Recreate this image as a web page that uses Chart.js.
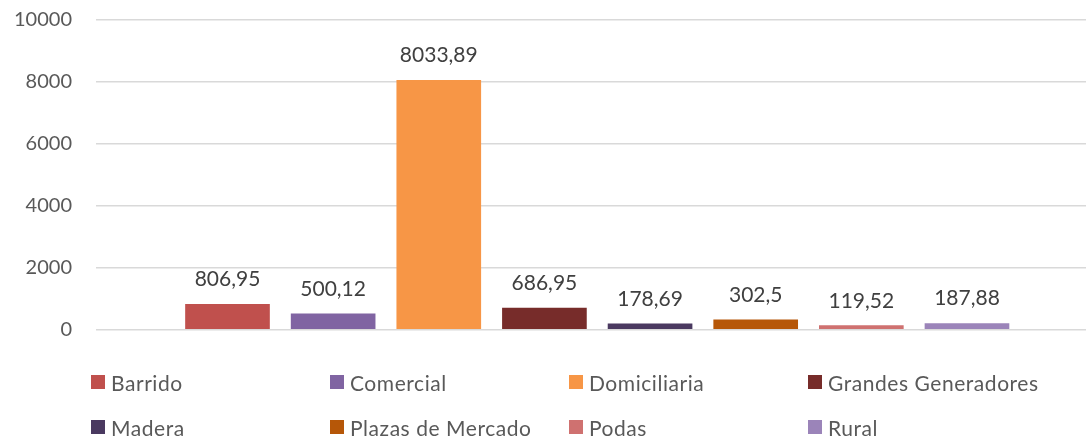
<!DOCTYPE html>
<html>
<head>
<meta charset="utf-8">
<script src="https://cdn.jsdelivr.net/npm/chart.js@4"></script>
<style>
  html, body { margin: 0; padding: 0; background: #ffffff; }
  #wrap { position: relative; width: 1086px; height: 438px; overflow: hidden; }
  #legend { position: absolute; left: 0; top: 0; width: 1086px; height: 438px; pointer-events: none; }
  .item { position: absolute; display: flex; align-items: center; height: 24px;
          font-family: Lato, "Open Sans", sans-serif; font-size: 21px; letter-spacing: 0.55px;
          color: #595959; white-space: nowrap; }
  .box { width: 14px; height: 14px; margin-right: 6px; flex: none; }
</style>
</head>
<body>
<div id="wrap">
  <canvas id="c" width="1086" height="438"></canvas>
  <div id="legend"></div>
</div>
<script>
const categories = ['Barrido', 'Comercial', 'Domiciliaria', 'Grandes Generadores', 'Madera', 'Plazas de Mercado', 'Podas', 'Rural'];
const values = [806.95, 500.12, 8033.89, 686.95, 178.69, 302.5, 119.52, 187.88];
const yTicks = [0, 2000, 4000, 6000, 8000, 10000];
const colors = ['#C0504D', '#8064A2', '#F79646', '#772C2A', '#4A3960', '#B65708', '#CF7170', '#9B84B9'];

function fmt(v) { return String(v).replace('.', ','); }

const valueLabels = {
  id: 'valueLabels',
  afterDatasetsDraw(chart) {
    const ctx = chart.ctx;
    const meta = chart.getDatasetMeta(0);
    ctx.save();
    ctx.font = '21px Lato, "Open Sans", sans-serif';
    ctx.fillStyle = '#404040';
    ctx.textAlign = 'center';
    ctx.textBaseline = 'alphabetic';
    meta.data.forEach((el, i) => {
      const v = chart.data.datasets[0].data[i].y;
      ctx.fillText(fmt(v), el.x, el.y - 18);
    });
    ctx.restore();
  }
};

const chart = new Chart(document.getElementById('c'), {
  type: 'bar',
  data: {
    datasets: [{
      label: 'Valores',
      data: categories.map((c, i) => ({ x: i + 1, y: values[i] })),
      backgroundColor: colors,
      borderWidth: 0,
      barThickness: 84
    }]
  },
  options: {
    responsive: false,
    animation: false,
    events: [],
    layout: { padding: { left: 0, right: 0, top: 19.3, bottom: 108.7 } },
    plugins: {
      legend: { display: false },
      tooltip: { enabled: false }
    },
    scales: {
      x: {
        type: 'linear',
        display: false,
        offset: false,
        min: -0.2448,
        max: 9.1267,
        grid: { display: false, offset: false }
      },
      y: {
        min: 0,
        max: 10000,
        afterFit(s) { s.width = 96; s.paddingTop = 0; s.paddingBottom = 0; },
        afterBuildTicks(s) { s.ticks = yTicks.map(v => ({ value: v })); },
        border: { display: false },
        grid: { color: '#d9d9d9', lineWidth: 1.5, drawTicks: false },
        ticks: {
          padding: 24,
          color: '#595959',
          font: { family: 'Lato, "Open Sans", sans-serif', size: 20 },
          callback: v => String(v)
        }
      }
    }
  },
  plugins: [valueLabels]
});

// HTML legend built from the chart's data
const legend = document.getElementById('legend');
categories.forEach((name, i) => {
  const col = i % 4, row = Math.floor(i / 4);
  const item = document.createElement('div');
  item.className = 'item';
  item.style.left = (91 + col * 239) + 'px';
  item.style.top = (370 + row * 45) + 'px';
  const box = document.createElement('span');
  box.className = 'box';
  box.style.background = chart.data.datasets[0].backgroundColor[i];
  const txt = document.createElement('span');
  txt.textContent = name;
  item.appendChild(box);
  item.appendChild(txt);
  legend.appendChild(item);
});
</script>
</body>
</html>
